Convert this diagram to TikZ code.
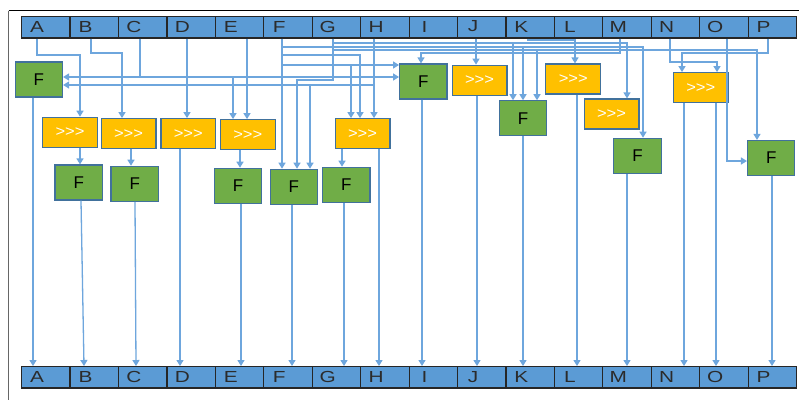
\documentclass[tikz,border=0pt]{standalone}
\usepackage{fontspec}
\setmainfont{Liberation Sans}
\usepackage{graphicx}
\usetikzlibrary{arrows.meta}
\definecolor{cellblue}{HTML}{5B9BD5}
\definecolor{wirec}{HTML}{6EA6DD}
\definecolor{fgreen}{HTML}{70AD47}
\definecolor{fyellow}{HTML}{FFC000}
\definecolor{boxline}{HTML}{41719C}
\definecolor{celltext}{HTML}{2B2B2B}
\newcommand\widetxt[1]{\scalebox{1.3}[1]{#1}}
\newcommand\shf{\scalebox{1.1}[1]{>\kern0pt>\kern0pt>}}
\begin{document}
\begin{tikzpicture}[x=1pt,y=-1pt,
  cell/.style={draw=black!85, line width=1.2pt, fill=cellblue, minimum width=48.44pt, minimum height=21.3pt, inner sep=0pt, anchor=north west},
  clab/.style={text=celltext, font=\fontsize{16}{16}\selectfont, inner sep=0pt},
  fbox/.style={draw=boxline, line width=1.2pt, fill=fgreen, inner sep=0pt, minimum width=47.3pt, minimum height=35pt, font=\fontsize{17}{17}\selectfont, text=black},
  ybox/.style={draw=boxline, line width=1.2pt, fill=fyellow, inner sep=0pt, minimum width=54.8pt, minimum height=30pt, font=\fontsize{15}{15}\selectfont, text=white},
  wire/.style={draw=wirec, line width=1.3pt},
  arr/.style={wire, -{Triangle[width=7pt,length=6pt]}}]
\useasboundingbox (0,0) rectangle (799,400);
\fill[white] (0,0) rectangle (799,400);
% frame
\draw[black, line width=1pt] (8.5,10.5) -- (799,10.5);
\draw[black!60, line width=1.6pt] (8.5,10.5) -- (8.5,400);
% cells
\foreach \l [count=\i from 0] in {A,B,C,D,E,F,G,H,I,J,K,L,M,N,O,P} {
  \node[cell] (t\l) at ({21+48.44*\i},16) {};
  \node[clab] (lt\l) at ({37+48.44*\i},26.5) {\widetxt{\l}};
  \node[cell] (b\l) at ({21+48.44*\i},366) {};
  \node[clab] (lb\l) at ({37+48.44*\i},377) {\widetxt{\l}};
}
% helper coordinates
\foreach \v in {33,37,80,81,84,91,122,131,135,136,140,180,187,233,240,241,247,282,292,297,310,333,342,344,351,360,374,379,421,422,476,477,513,523,528,537,575,577,620,627,643,670,682,684,716,717,727,757,768,772}
  \coordinate (v\v) at (\v,0);
\foreach \h in {40,43,47,50,53,55,62,65,77,80,85,161}
  \coordinate (h\h) at (0,\h);
% function boxes
\node[fbox] (FL) at (38.8,79.5) {F};
\node[fbox] (F2) at (78.7,182.5) {F};
\node[fbox] (F3) at (134.7,183.8) {F};
\node[fbox] (F4) at (238,185.8) {F};
\node[fbox] (F5) at (293.8,186.8) {F};
\node[fbox] (F6) at (346.3,184.8) {F};
\node[fbox] (FI) at (423.3,81.5) {F};
\node[fbox] (FK) at (523,118.3) {F};
\node[fbox] (FM) at (637.5,155.8) {F};
\node[fbox] (FP) at (771.2,158) {F};
\node[ybox] (Y1) at (70,132.3) {\shf};
\node[ybox] (Y2) at (128.5,133.7) {\shf};
\node[ybox] (Y3) at (188.3,133.7) {\shf};
\node[ybox] (Y4) at (247.8,134.7) {\shf};
\node[ybox] (Y5) at (362.5,133.7) {\shf};
\node[ybox] (YJ) at (479.5,80.2) {\shf};
\node[ybox] (YL) at (573.2,79) {\shf};
\node[ybox] (YM) at (611.5,114) {\shf};
\node[ybox] (YNO) at (700.8,87.7) {\shf};
% wires from top cells
\draw[arr] (v37 |- tA.south) |- (v80 |- h55) -- (v80 |- Y1.north);
\draw[arr] (v91 |- tB.south) |- (v122 |- h53) -- (v122 |- Y2.north);
\draw[wire] (v140 |- tC.south) -- (v140 |- h77);
\draw[arr] (v140 |- h77) -- (FL.east |- h77);
\draw[arr] (v140 |- h77) -- (FI.west |- h77);
\draw[arr] (v233 |- h77) -- (v233 |- Y4.north);
\draw[arr] (v187 |- tD.south) -- (v187 |- Y3.north);
\draw[arr] (v247 |- tE.south) -- (v247 |- Y4.north);
\draw[arr] (v282 |- tF.south) -- (v282 |- F5.north);
\draw[arr] (v282 |- h47) -| (v643 |- FM.north);
\draw[arr] (v523 |- h47) -- (v523 |- FK.north);
\draw[arr] (v282 |- h55) -| (v360 |- Y5.north);
\draw[arr] (v282 |- h65) -- (FI.west |- h65);
\draw[arr] (v351 |- h65) -- (v351 |- Y5.north);
\draw[arr] (v333 |- tG.south) |- (v297 |- h80) -- (v297 |- F5.north);
\draw[arr] (v333 |- h43) -| (v627 |- YM.north);
\draw[arr] (v513 |- h43) -- (v513 |- FK.north);
\draw[arr] (v333 |- h50) -| (v757 |- FP.north);
\draw[arr] (v537 |- h50) -- (v537 |- FK.north);
\draw[arr] (v374 |- tH.south) -- (v374 |- Y5.north);
\draw[arr] (v374 |- h85) -- (FL.east |- h85);
\draw[arr] (v310 |- h85) -- (v310 |- F5.north);
\draw[arr] (v476 |- tJ.south) -- (v476 |- YJ.north);
\draw[arr] (v528 |- tK.south) |- (v575 |- h40) -- (v575 |- YL.north);
\draw[arr] (v620 |- tM.south) |- (v421 |- h53) -- (v421 |- FI.north);
\draw[arr] (v670 |- tN.south) |- (v717 |- h62) -- (v717 |- YNO.north);
\draw[arr] (v727 |- tO.south) |- (FP.west |- h161);
\draw[arr] (v768 |- tP.south) |- (v682 |- h53) -- (v682 |- YNO.north);
% box to box
\draw[arr] (v80 |- Y1.south) -- (v80 |- F2.north);
\draw[arr] (v131 |- Y2.south) -- (v131 |- F3.north);
\draw[arr] (v240 |- Y4.south) -- (v240 |- F4.north);
\draw[arr] (v342 |- Y5.south) -- (v342 |- F6.north);
% to bottom cells
\draw[arr] (v33 |- FL.south) -- (v33 |- bA.north);
\draw[arr] (v81 |- F2.south) -- (v84 |- bB.north);
\draw[arr] (v135 |- F3.south) -- (v136 |- bC.north);
\draw[arr] (v180 |- Y3.south) -- (v180 |- bD.north);
\draw[arr] (v241 |- F4.south) -- (v241 |- bE.north);
\draw[arr] (v292 |- F5.south) -- (v292 |- bF.north);
\draw[arr] (v344 |- F6.south) -- (v344 |- bG.north);
\draw[arr] (v379 |- Y5.south) -- (v379 |- bH.north);
\draw[arr] (v422 |- FI.south) -- (v422 |- bI.north);
\draw[arr] (v477 |- YJ.south) -- (v477 |- bJ.north);
\draw[arr] (v523 |- FK.south) -- (v523 |- bK.north);
\draw[arr] (v577 |- YL.south) -- (v577 |- bL.north);
\draw[arr] (v627 |- FM.south) -- (v627 |- bM.north);
\draw[arr] (v684 |- YNO.south) -- (v684 |- bN.north);
\draw[arr] (v716 |- YNO.south) -- (v716 |- bO.north);
\draw[arr] (v772 |- FP.south) -- (v772 |- bP.north);
\end{tikzpicture}
\end{document}
